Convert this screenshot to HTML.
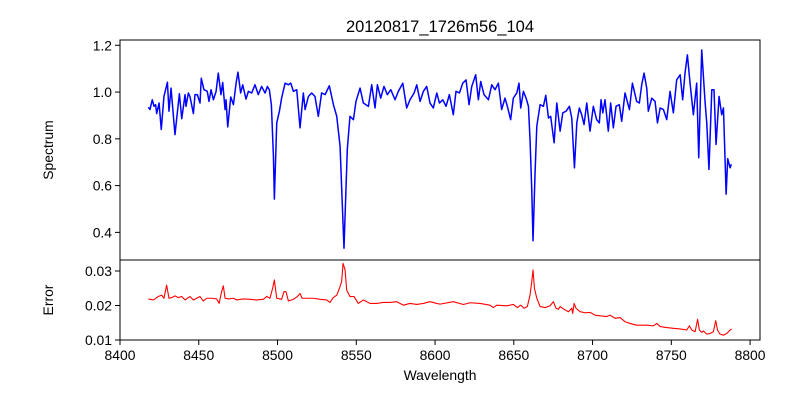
<!DOCTYPE html>
<html><head><meta charset="utf-8"><style>
html,body{margin:0;padding:0;background:#fff;}
svg{display:block;font-family:"Liberation Sans","DejaVu Sans",sans-serif;}
</style></head><body>
<svg id="fig" width="800" height="400" viewBox="0 0 800 400">
<rect width="800" height="400" fill="#fff"/>
<text x="440" y="32" text-anchor="middle" font-size="16.5" fill="#000">20120817_1726m56_104</text>
<g id="topPanel"></g>
<g id="botPanel"></g>
<text x="440" y="380" text-anchor="middle" font-size="13.9" fill="#000">Wavelength</text>
<text transform="translate(53,150) rotate(-90)" text-anchor="middle" font-size="13.9" fill="#000">Spectrum</text>
<text transform="translate(53,300) rotate(-90)" text-anchor="middle" font-size="13.9" fill="#000">Error</text>
</svg>
<script>
const specWave=[8418.0,8419.0,8420.5,8421.6,8422.6,8423.3,8424.8,8426.2,8427.9,8430.1,8431.1,8432.4,8434.9,8437.7,8439.2,8441.3,8441.9,8443.4,8444.4,8446.6,8447.6,8449.1,8450.8,8451.6,8453.3,8455.4,8456.5,8457.8,8459.3,8461.0,8462.4,8464.1,8465.2,8466.7,8467.3,8468.4,8470.3,8472.0,8473.7,8474.9,8476.6,8477.9,8480.0,8481.5,8483.6,8485.7,8487.8,8489.9,8492.1,8493.6,8494.8,8496.1,8497.4,8498.0,8499.5,8501.2,8502.6,8504.8,8506.9,8508.4,8510.1,8512.2,8514.3,8516.4,8517.5,8519.6,8521.7,8523.8,8525.9,8528.0,8530.2,8532.9,8535.5,8537.6,8539.7,8542.2,8544.3,8546.0,8548.2,8549.8,8552.4,8554.5,8557.7,8559.8,8561.9,8563.4,8565.5,8567.6,8569.7,8571.9,8574.6,8576.7,8579.5,8582.0,8584.1,8586.7,8588.4,8590.5,8592.6,8594.7,8596.8,8598.9,8601.1,8602.8,8604.9,8607.0,8609.1,8611.6,8613.3,8615.5,8617.6,8619.7,8621.6,8623.3,8625.8,8627.5,8629.0,8631.1,8633.9,8636.0,8638.1,8640.2,8642.3,8644.4,8645.9,8648.0,8649.7,8651.9,8653.3,8654.4,8656.1,8657.8,8659.3,8660.3,8661.4,8662.2,8663.5,8664.6,8666.7,8668.8,8670.3,8672.0,8673.4,8675.6,8677.3,8679.4,8681.1,8683.2,8685.3,8686.8,8688.5,8690.0,8691.6,8693.1,8694.6,8696.3,8698.4,8700.5,8702.6,8704.3,8705.4,8706.5,8707.9,8710.0,8711.5,8713.2,8714.9,8717.0,8718.5,8720.6,8723.4,8725.3,8728.0,8729.7,8731.2,8732.7,8734.4,8735.4,8737.6,8739.7,8741.2,8742.9,8745.0,8747.1,8749.2,8751.3,8753.4,8755.6,8757.2,8758.7,8760.2,8761.9,8764.0,8766.1,8767.4,8769.3,8771.4,8772.5,8773.9,8775.7,8777.1,8778.4,8780.3,8782.0,8783.1,8784.8,8785.8,8787.3,8788.1];
const specFlux=[0.935,0.925,0.967,0.939,0.946,0.908,0.953,0.840,0.981,1.042,0.918,1.017,0.818,0.993,0.886,0.989,0.939,0.996,0.981,0.908,0.989,0.989,0.953,1.059,1.010,1.003,0.960,1.010,0.967,1.003,1.081,0.989,1.041,0.925,0.967,0.851,0.979,0.946,1.038,1.085,0.996,1.031,0.970,1.003,0.996,1.031,0.989,1.024,0.996,1.024,1.010,0.946,0.726,0.542,0.868,0.918,0.974,1.038,1.031,1.038,1.003,1.010,0.847,0.996,0.925,0.981,0.996,0.981,0.896,0.996,0.989,1.027,0.946,0.896,0.769,0.332,0.755,0.896,0.882,0.960,1.017,0.953,0.939,1.031,0.932,1.031,0.974,1.024,0.989,1.010,0.967,1.003,1.038,0.932,0.967,0.996,1.031,0.960,1.003,1.024,0.953,0.932,0.996,0.953,0.967,0.939,0.989,0.903,1.003,0.996,1.038,1.052,0.946,1.024,1.074,0.967,1.045,0.989,0.967,1.031,1.010,1.038,0.925,0.974,0.939,0.882,0.974,0.996,1.038,0.932,1.003,0.974,0.939,0.797,0.584,0.364,0.655,0.854,0.946,0.939,0.986,0.889,0.896,0.783,0.953,0.833,0.911,0.918,0.939,0.889,0.676,0.868,0.932,0.903,0.861,0.953,0.833,0.939,0.882,0.868,0.967,0.911,0.967,0.833,0.953,0.847,0.939,0.946,0.875,0.996,0.925,1.038,0.960,0.953,1.031,1.081,1.017,0.918,0.974,0.960,0.868,0.932,0.925,0.882,1.003,0.911,1.052,1.074,0.967,1.081,1.159,1.038,0.903,1.038,0.719,1.180,0.960,0.868,0.669,1.010,1.010,0.776,0.981,0.903,0.932,0.563,0.715,0.676,0.691];
const errWave=[8418.0,8421.2,8424.3,8426.5,8427.9,8429.6,8431.1,8432.8,8434.9,8437.0,8439.2,8441.3,8444.4,8446.6,8448.7,8450.8,8452.9,8455.0,8458.2,8461.4,8462.9,8464.5,8465.6,8466.7,8468.8,8472.0,8474.1,8478.3,8482.5,8486.8,8491.0,8493.1,8495.2,8496.9,8498.0,8499.5,8502.6,8504.1,8505.4,8506.9,8510.1,8512.6,8514.3,8515.6,8518.5,8522.7,8527.0,8531.2,8533.3,8535.4,8537.6,8539.3,8540.7,8541.6,8542.9,8543.9,8546.0,8548.6,8551.3,8554.5,8558.7,8563.0,8567.2,8571.4,8575.7,8579.9,8584.1,8588.4,8592.6,8596.8,8601.1,8603.2,8611.6,8618.0,8622.2,8628.6,8634.9,8637.0,8639.2,8645.5,8649.7,8652.3,8654.4,8656.5,8658.6,8660.3,8661.4,8662.2,8663.1,8664.6,8666.7,8669.9,8673.0,8675.1,8676.8,8678.3,8679.4,8681.5,8684.7,8686.8,8687.4,8688.3,8689.5,8692.1,8695.2,8698.4,8701.6,8704.8,8709.0,8711.1,8714.3,8717.5,8720.6,8723.8,8728.0,8734.4,8738.6,8740.8,8742.9,8747.1,8751.3,8755.6,8759.8,8761.5,8763.0,8765.1,8766.7,8767.8,8769.3,8770.4,8772.5,8774.6,8776.7,8778.2,8779.3,8780.9,8783.1,8785.2,8787.3,8788.3];
const errVals=[0.0219,0.0216,0.0226,0.0230,0.0221,0.0259,0.0221,0.0223,0.0228,0.0223,0.0226,0.0216,0.0226,0.0216,0.0221,0.0226,0.0213,0.0221,0.0221,0.0219,0.0206,0.0240,0.0257,0.0221,0.0219,0.0221,0.0216,0.0219,0.0218,0.0216,0.0218,0.0226,0.0221,0.0250,0.0274,0.0221,0.0218,0.0240,0.0240,0.0213,0.0218,0.0226,0.0235,0.0221,0.0221,0.0221,0.0218,0.0216,0.0209,0.0223,0.0230,0.0250,0.0269,0.0322,0.0303,0.0245,0.0226,0.0226,0.0206,0.0216,0.0206,0.0206,0.0209,0.0209,0.0211,0.0201,0.0206,0.0203,0.0206,0.0211,0.0206,0.0204,0.0211,0.0203,0.0208,0.0206,0.0201,0.0194,0.0201,0.0199,0.0203,0.0194,0.0201,0.0192,0.0197,0.0230,0.0269,0.0303,0.0250,0.0221,0.0197,0.0194,0.0199,0.0211,0.0192,0.0189,0.0197,0.0190,0.0182,0.0192,0.0177,0.0206,0.0192,0.0182,0.0179,0.0180,0.0172,0.0170,0.0168,0.0172,0.0163,0.0165,0.0153,0.0148,0.0143,0.0143,0.0141,0.0148,0.0139,0.0136,0.0134,0.0132,0.0129,0.0141,0.0129,0.0124,0.0160,0.0129,0.0122,0.0126,0.0117,0.0119,0.0124,0.0156,0.0129,0.0117,0.0114,0.0119,0.0129,0.0132];
const xTicks=[8400,8450,8500,8550,8600,8650,8700,8750,8800];
const specTicks=[0.4,0.6,0.8,1.0,1.2];
const specTickLabels=["0.4","0.6","0.8","1.0","1.2"];
const errTicks=[0.01,0.02,0.03];
const errTickLabels=["0.01","0.02","0.03"];

const NS="http://www.w3.org/2000/svg";
const L=120,R=760;
const xMin=8400,xMax=8806.3;
const X=v=>L+(v-xMin)/(xMax-xMin)*(R-L);
const topT=40,topB=260,sMin=0.2818,sMax=1.2226;
const YS=v=>topB-(v-sMin)/(sMax-sMin)*(topB-topT);
const botT=260,botB=340,eMin=0.01,eMax=0.03319;
const YE=v=>botB-(v-eMin)/(eMax-eMin)*(botB-botT);
function mk(tag,attrs,parent){const e=document.createElementNS(NS,tag);for(const k in attrs)e.setAttribute(k,attrs[k]);parent.appendChild(e);return e;}
const topG=document.getElementById('topPanel'),botG=document.getElementById('botPanel');

let d=specWave.map((w,i)=>(i?'L':'M')+X(w).toFixed(2)+','+YS(specFlux[i]).toFixed(2)).join('');
const sp=mk('path',{d:d,fill:'none',stroke:'#0000ff','stroke-width':1.5,'stroke-linejoin':'round'},topG);


d=errWave.map((w,i)=>(i?'L':'M')+X(w).toFixed(2)+','+YE(errVals[i]).toFixed(2)).join('');
const ep=mk('path',{d:d,fill:'none',stroke:'#ff0000','stroke-width':1.1,'stroke-linejoin':'round'},botG);



const f1=mk('rect',{x:L,y:topT,width:R-L,height:topB-topT,fill:'none',stroke:'#000','stroke-width':1},topG);


const f2=mk('rect',{x:L,y:botT,width:R-L,height:botB-botT,fill:'none',stroke:'#000','stroke-width':1},botG);



specTicks.forEach((v,i)=>{const y=YS(v);
 const t=mk('line',{x1:L-5,x2:L,y1:y,y2:y,stroke:'#000','stroke-width':1},topG);
 
 
 const tx=mk('text',{x:L-8,y:y+5,'text-anchor':'end','font-size':13.9,fill:'#000'},topG);tx.textContent=specTickLabels[i];
 
 });
errTicks.forEach((v,i)=>{const y=YE(v);
 const t=mk('line',{x1:L-5,x2:L,y1:y,y2:y,stroke:'#000','stroke-width':1},botG);
 
 
 const tx=mk('text',{x:L-8,y:y+5,'text-anchor':'end','font-size':13.9,fill:'#000'},botG);tx.textContent=errTickLabels[i];
 
 });
xTicks.forEach(v=>{const x=X(v);
 const t=mk('line',{x1:x,x2:x,y1:botB,y2:botB+5,stroke:'#000','stroke-width':1},botG);
 
 
 const tx=mk('text',{x:x,y:botB+20,'text-anchor':'middle','font-size':13.9,fill:'#000'},botG);tx.textContent=String(v);
 
 });
</script>
</body></html>
